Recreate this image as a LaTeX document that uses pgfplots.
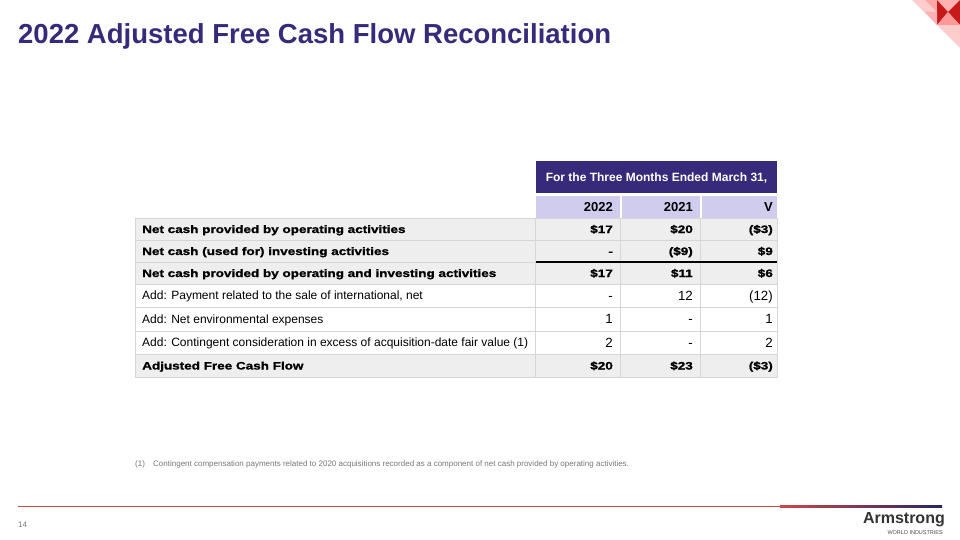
\documentclass[border=0pt]{standalone}
\usepackage{pgfplots}
\pgfplotsset{compat=1.18}
\usepackage{fontspec}
\setmainfont{Liberation Sans}
\newfontfamily\heavy[FakeStretch=1.25,FakeBold=1.2]{Liberation Sans}

\definecolor{awiPurple}{RGB}{55,42,122}
\definecolor{lav}{RGB}{208,204,238}
\definecolor{rowgrey}{RGB}{238,238,238}
\definecolor{gridgrey}{RGB}{214,214,214}
\definecolor{lineRed}{RGB}{205,72,72}
\definecolor{lineNavy}{RGB}{40,38,100}
\definecolor{noteGrey}{RGB}{120,120,120}

\pgfplotsset{
  cell/.style={draw=none, mark=none, nodes near coords, point meta=explicit symbolic,
    every node near coord/.append style={anchor=base east, inner sep=0pt, text=black}},
  boldcell/.style={cell, every node near coord/.append style={font=\heavy\bfseries\fontsize{10.8}{12}\selectfont}},
  plaincell/.style={cell, every node near coord/.append style={font=\fontsize{13.3}{15}\selectfont}},
  headcell/.style={cell, every node near coord/.append style={font=\bfseries\fontsize{13}{15}\selectfont}},
}

\begin{document}
\begin{tikzpicture}
\begin{axis}[
    width=960pt, height=540pt, scale only axis,
    xmin=0, xmax=960, ymin=0, ymax=540,
    y dir=reverse, hide axis, clip=false
]
% page
\fill[white] (axis cs:0,0) rectangle (axis cs:960,540);

% corner decoration
\fill[red!20] (axis cs:912,0) -- (axis cs:960,0) -- (axis cs:960,48) -- cycle;
\fill[red!35] (axis cs:925,0) -- (axis cs:937,0) -- (axis cs:937,12) -- cycle;
\fill[red!30] (axis cs:937,0) -- (axis cs:960,0) -- (axis cs:948,12) -- cycle;
\fill[red!75!black!90] (axis cs:937,0) -- (axis cs:948,12) -- (axis cs:937,25) -- cycle;
\fill[red!75!black!90] (axis cs:960,0) -- (axis cs:948,12) -- (axis cs:960,25) -- cycle;
\fill[red!40] (axis cs:937,25) -- (axis cs:948,12) -- (axis cs:960,25) -- cycle;
\fill[red!30] (axis cs:925,12) -- (axis cs:937,25) -- (axis cs:937,12) -- cycle;

% title
\node[anchor=base west, inner sep=0pt, text=awiPurple, font=\bfseries\fontsize{27.5}{30}\selectfont]
  at (axis cs:18,44) {2022 Adjusted Free Cash Flow Reconciliation};

% table backgrounds
\fill[awiPurple] (axis cs:536,161) rectangle (axis cs:777,193);
\fill[lav] (axis cs:536,196) rectangle (axis cs:619.5,218);
\fill[lav] (axis cs:621.5,196) rectangle (axis cs:699.5,218);
\fill[lav] (axis cs:701.5,196) rectangle (axis cs:777,218);
\fill[rowgrey] (axis cs:135,218) rectangle (axis cs:777,284);
\fill[rowgrey] (axis cs:135,354) rectangle (axis cs:777,377);
\draw[gridgrey, line width=0.8pt] (axis cs:135,218) rectangle (axis cs:777,377);
\pgfplotsinvokeforeach{240,262,284,307,331,354}{
  \draw[gridgrey, line width=0.8pt] (axis cs:135,#1) -- (axis cs:777,#1);
}
\pgfplotsinvokeforeach{535.5,620.5,700.5}{
  \draw[gridgrey, line width=0.8pt] (axis cs:#1,218) -- (axis cs:#1,377);
}
\draw[black, line width=1.1pt] (axis cs:536,262) -- (axis cs:777,262);

\node[anchor=base, inner sep=0pt, text=white, font=\bfseries\fontsize{12}{14}\selectfont]
  at (axis cs:656.5,181.5) {For the Three Months Ended March 31,};

% column headers
\addplot[headcell] coordinates {(613,211.7) [2022] (693,211.7) [2021] (773,211.7) [V]};

% row labels
\begin{scope}[every node/.style={anchor=base west, inner sep=0pt}]
\node[font=\heavy\bfseries\fontsize{10.8}{12}\selectfont] at (axis cs:142,233) {Net cash provided by operating activities};
\node[font=\heavy\bfseries\fontsize{10.8}{12}\selectfont] at (axis cs:142,255) {Net cash (used for) investing activities};
\node[font=\heavy\bfseries\fontsize{10.8}{12}\selectfont] at (axis cs:142,277) {Net cash provided by operating and investing activities};
\node[font=\fontsize{12}{14}\selectfont] at (axis cs:142,299.8) {Add: Payment related to the sale of international, net};
\node[font=\fontsize{12}{14}\selectfont] at (axis cs:142,323.3) {Add: Net environmental expenses};
\node[font=\fontsize{12}{14}\selectfont] at (axis cs:142,346.8) {Add: Contingent consideration in excess of acquisition-date fair value (1)};
\node[font=\heavy\bfseries\fontsize{10.8}{12}\selectfont] at (axis cs:142,369.5) {Adjusted Free Cash Flow};
\end{scope}

% values: 2022, 2021, variance
\addplot[boldcell] coordinates {(613,233) [\$17] (693,233) [\$20] (773,233) [(\$3)]};
\addplot[boldcell] coordinates {(613,255) [-] (693,255) [(\$9)] (773,255) [\$9]};
\addplot[boldcell] coordinates {(613,277) [\$17] (693,277) [\$11] (773,277) [\$6]};
\addplot[plaincell] coordinates {(613,300.3) [-] (693,300.3) [12] (773,300.3) [(12)]};
\addplot[plaincell] coordinates {(613,323.8) [1] (693,323.8) [-] (773,323.8) [1]};
\addplot[plaincell] coordinates {(613,347.3) [2] (693,347.3) [-] (773,347.3) [2]};
\addplot[boldcell] coordinates {(613,369.5) [\$20] (693,369.5) [\$23] (773,369.5) [(\$3)]};

% footnote
\node[anchor=base west, inner sep=0pt, text=noteGrey, font=\fontsize{8}{9}\selectfont] at (axis cs:135,466) {(1)};
\node[anchor=base west, inner sep=0pt, text=noteGrey, font=\fontsize{8}{9}\selectfont] at (axis cs:153,466)
  {Contingent compensation payments related to 2020 acquisitions recorded as a component of net cash provided by operating activities.};

% footer
\fill[lineRed] (axis cs:18,505.5) rectangle (axis cs:780,507);
\shade[left color=lineRed, right color=lineNavy] (axis cs:780,505.5) rectangle (axis cs:942,507);
\node[anchor=base west, inner sep=0pt, text=noteGrey, font=\fontsize{8}{9}\selectfont] at (axis cs:18,527) {14};
\node[anchor=base east, inner sep=0pt, text=black!80, font=\bfseries\fontsize{16}{18}\selectfont] at (axis cs:945,523) {Armstrong};
\node[anchor=base east, inner sep=0pt, text=black!70, font=\fontsize{5.5}{6}\selectfont] at (axis cs:943,534) {WORLD INDUSTRIES};
\end{axis}
\end{tikzpicture}
\end{document}
